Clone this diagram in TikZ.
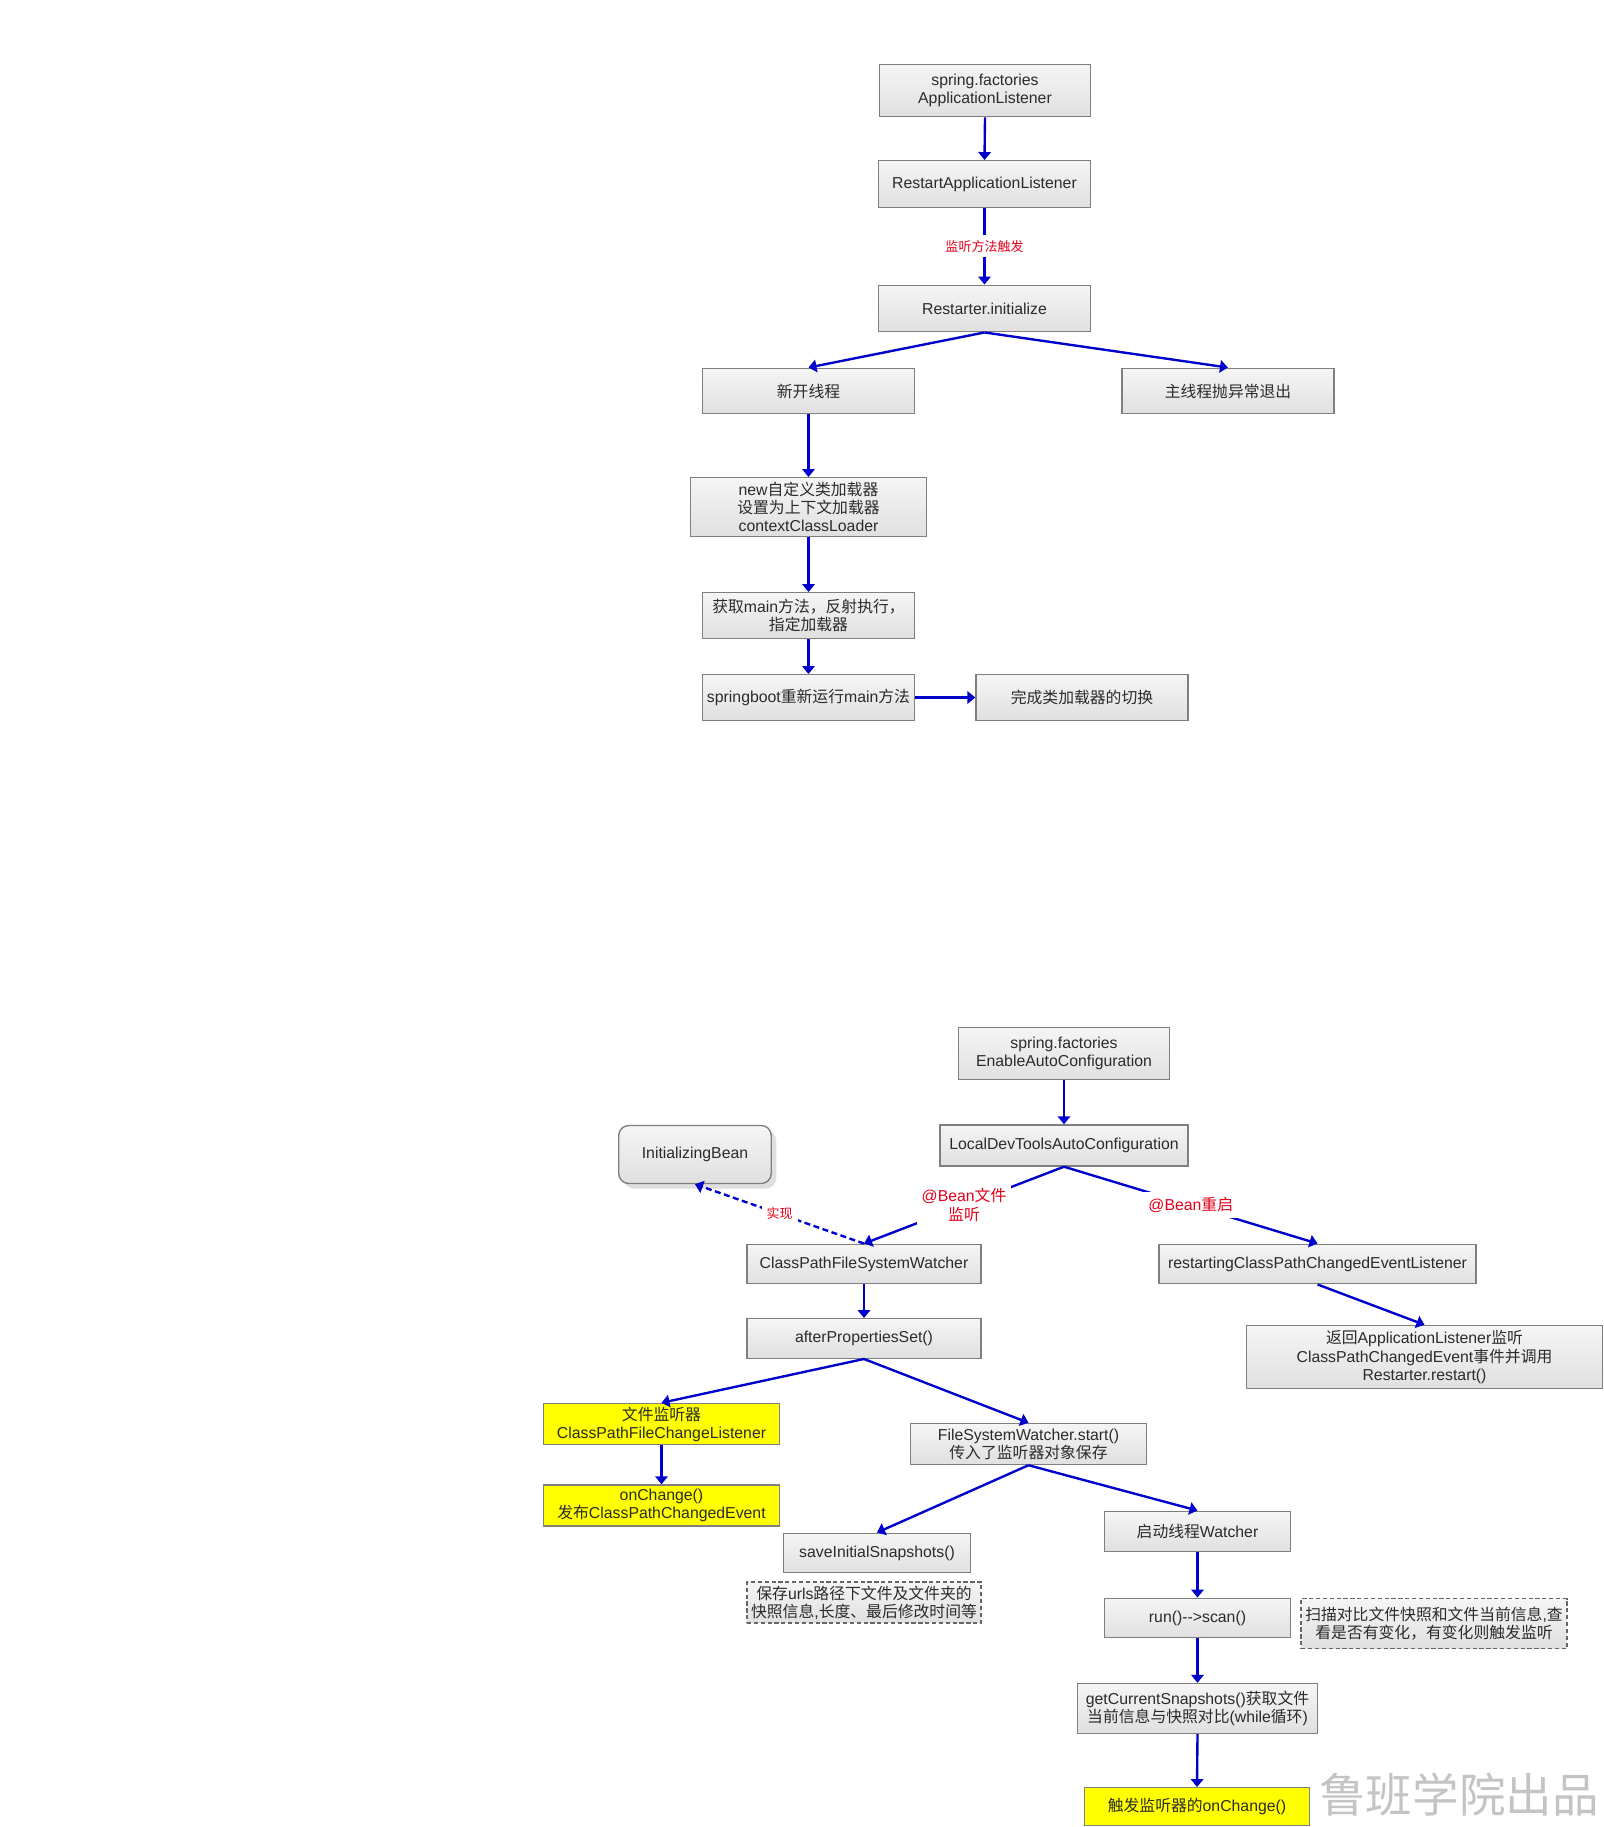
\documentclass[tikz,border=0pt]{standalone}
\usepackage{fontspec}
\setmainfont{Liberation Sans}
\newfontfamily\zhfont{Noto Sans CJK SC}
\newcommand{\zh}[1]{{\zhfont #1}}
\usepackage{xcolor}
\usepackage{tikz}
\usetikzlibrary{arrows.meta,shadows}
\definecolor{flow}  {HTML}{0000CC}
\definecolor{edge}  {HTML}{7F7F7F}
\definecolor{ink}   {HTML}{2B2B2B}
\definecolor{boxtop}{HTML}{F5F5F5}
\definecolor{boxbot}{HTML}{E0E0E0}
\definecolor{tag}   {HTML}{E3001B}
\definecolor{hilite}{HTML}{FFFF00}
\definecolor{stamp} {HTML}{C4C4C4}

\begin{document}
\begin{tikzpicture}[font=\fontsize{9}{10.3}\selectfont,
  base/.style={draw=edge,line width=0.8pt,text=ink,align=center,inner sep=1pt},
  box/.style={base,top color=boxtop,bottom color=boxbot},
  hl/.style={base,fill=hilite},
  note/.style={base,line width=1pt,draw=black!60,dash pattern=on 2.4pt off 1.5pt,
               top color=boxtop,bottom color=boxbot},
  tag/.style={text=tag,fill=white,inner sep=0.1cm,align=center,
              font=\fontsize{9}{10.6}\selectfont},
  smalltag/.style={tag,font=\fontsize{7.4}{8.5}\selectfont},
  ar/.style={-{Triangle[width=0.25cm,length=0.16cm]},draw=flow,line width=1.35pt}]
  \useasboundingbox (0,0) rectangle (32.08,-36.54);

  % restart path
  \node[box,minimum width=4.22cm,minimum height=1.05cm] (sf1) at (19.70,-1.81)
    {spring.factories\\ApplicationListener};
  \node[box,minimum width=4.24cm,minimum height=0.93cm] (ral) at (19.69,-3.68)
    {RestartApplicationListener};
  \node[box,minimum width=4.24cm,minimum height=0.93cm] (ri) at (19.69,-6.17)
    {Restarter.initialize};
  \node[box,minimum width=4.24cm,minimum height=0.91cm] (nt) at (16.17,-7.82)
    {\zh{新开线程}};
  \node[box,minimum width=4.24cm,minimum height=0.91cm] (mt) at (24.56,-7.82)
    {\zh{主线程抛异常退出}};
  \node[box,minimum width=4.71cm,minimum height=1.17cm] (nc) at (16.17,-10.14)
    {new\zh{自定义类加载器}\\\zh{设置为上下文加载器}\\contextClassLoader};
  \node[box,minimum width=4.24cm,minimum height=0.91cm] (gm) at (16.17,-12.31)
    {\zh{获取}main\zh{方法，反射执行，}\\\zh{指定加载器}};
  \node[box,minimum width=4.24cm,minimum height=0.91cm] (sb) at (16.17,-13.95)
    {springboot\zh{重新运行}main\zh{方法}};
  \node[box,minimum width=4.24cm,minimum height=0.91cm] (wc) at (21.64,-13.95)
    {\zh{完成类加载器的切换}};

  \draw[ar] (sf1.south) -- (ral.north);
  \draw[ar] (ral.south) -- node[smalltag]{\zh{监听方法触发}} (ri.north);
  \draw[ar] (ri.south) -- (nt.north);
  \draw[ar] (ri.south) -- (mt.north);
  \draw[ar] (nt.south) -- (nc.north);
  \draw[ar] (nc.south) -- (gm.north);
  \draw[ar] (gm.south) -- (sb.north);
  \draw[ar] (sb.east) -- (wc.west);

  % file watch path
  \node[box,minimum width=4.22cm,minimum height=1.05cm] (sf2) at (21.28,-21.07)
    {spring.factories\\EnableAutoConfiguration};
  \node[box,minimum width=4.96cm,minimum height=0.82cm] (ldt) at (21.28,-22.91)
    {LocalDevToolsAutoConfiguration};
  \node[box,rounded corners=0.2cm,minimum width=3.05cm,minimum height=1.16cm,
        drop shadow={shadow xshift=0.1cm,shadow yshift=-0.1cm,opacity=0.25}]
    (ib) at (13.90,-23.09) {InitializingBean};
  \node[box,minimum width=4.68cm,minimum height=0.79cm] (cpw) at (17.28,-25.28)
    {ClassPathFileSystemWatcher};
  \node[box,minimum width=6.34cm,minimum height=0.79cm] (rcp) at (26.35,-25.28)
    {restartingClassPathChangedEventListener};
  \node[box,minimum width=4.68cm,minimum height=0.79cm] (aps) at (17.28,-26.77)
    {afterPropertiesSet()};
  \node[box,minimum width=7.13cm,minimum height=1.26cm] (ret) at (28.49,-27.14)
    {\zh{返回}ApplicationListener\zh{监听}\\ClassPathChangedEvent\zh{事件并调用}\\Restarter.restart()};
  \node[hl,minimum width=4.71cm,minimum height=0.82cm] (fl) at (13.23,-28.48)
    {\zh{文件监听器}\\ClassPathFileChangeListener};
  \node[hl,minimum width=4.71cm,minimum height=0.82cm] (oc) at (13.23,-30.11)
    {onChange()\\\zh{发布}ClassPathChangedEvent};
  \node[box,minimum width=4.71cm,minimum height=0.82cm] (fsw) at (20.57,-28.88)
    {FileSystemWatcher.start()\\\zh{传入了监听器对象保存}};
  \node[box,minimum width=3.73cm,minimum height=0.79cm] (sis) at (17.54,-31.06)
    {saveInitialSnapshots()};
  \node[note,minimum width=4.68cm,minimum height=0.81cm] (n1) at (17.28,-32.05)
    {\zh{保存}urls\zh{路径下文件及文件夹的}\\\zh{快照信息},\zh{长度、最后修改时间等}};
  \node[box,minimum width=3.73cm,minimum height=0.81cm] (sw) at (23.95,-30.63)
    {\zh{启动线程}Watcher};
  \node[box,minimum width=3.73cm,minimum height=0.79cm] (rs) at (23.95,-32.36)
    {run(){-}{-}>scan()};
  \node[note,minimum width=5.31cm,minimum height=1.00cm] (n2) at (28.68,-32.47)
    {\zh{扫描对比文件快照和文件当前信息},\zh{查}\\\zh{看是否有变化，有变化则触发监听}};
  \node[box,minimum width=4.80cm,minimum height=1.00cm] (gcs) at (23.95,-34.17)
    {getCurrentSnapshots()\zh{获取文件}\\\zh{当前信息与快照对比}(while\zh{循环})};
  \node[hl,minimum width=4.50cm,minimum height=0.75cm] (tr) at (23.94,-36.13)
    {\zh{触发监听器的}onChange()};
  \node[text=stamp,font=\zhfont\fontsize{26.5}{29}\selectfont] (wm) at (29.18,-35.90)
    {鲁班学院出品};

  \draw[ar] (sf2.south) -- (ldt.north);
  \draw[ar] (ldt.south) -- node[tag]{@Bean\zh{文件}\\\zh{监听}} (cpw.north);
  \draw[ar] (ldt.south) -- node[tag]{@Bean\zh{重启}} (rcp.north);
  \draw[ar,dash pattern=on 0.12cm off 0.07cm] (cpw.north) -- node[smalltag]{\zh{实现}} (ib.south);
  \draw[ar] (cpw.south) -- (aps.north);
  \draw[ar] (rcp.south) -- (ret.north);
  \draw[ar] (aps.south) -- (fl.north);
  \draw[ar] (aps.south) -- (fsw.north);
  \draw[ar] (fl.south) -- (oc.north);
  \draw[ar] (fsw.south) -- (sis.north);
  \draw[ar] (fsw.south) -- (sw.north);
  \draw[ar] (sw.south) -- (rs.north);
  \draw[ar] (rs.south) -- (gcs.north);
  \draw[ar] (gcs.south) -- (tr.north);
\end{tikzpicture}
\end{document}
